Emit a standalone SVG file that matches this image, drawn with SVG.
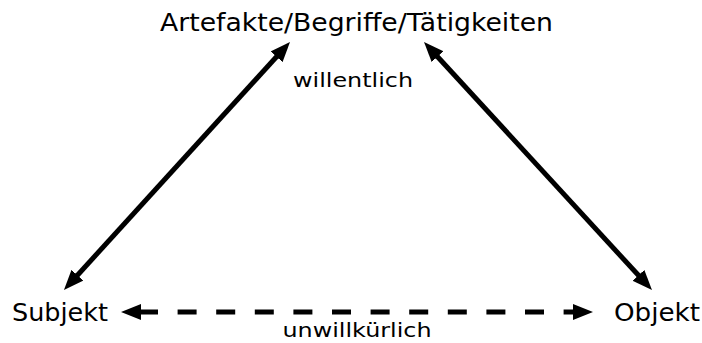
<svg xmlns="http://www.w3.org/2000/svg" width="702" height="343" viewBox="0 0 702 343">
<defs>
<style>
text{font-family:"DejaVu Sans","Liberation Sans",sans-serif;fill:#000}
.n{font-size:24px}
.l{font-size:20px}
.c{stroke:#000;stroke-width:5;fill:none;marker-start:url(#ah);marker-end:url(#ah)}
.d{stroke-dasharray:19 19.6}
</style>
<marker id="ah" markerUnits="userSpaceOnUse" markerWidth="22" markerHeight="18" refX="2" refY="8" orient="auto-start-reverse">
<path d="M0,0 L20,8 L0,16 z" fill="#000"/>
</marker>
</defs>
<rect width="702" height="343" fill="#fff"/>
<g id="connectors">
<line class="c" x1="76.1" y1="276.7" x2="277.9" y2="55.3"/>
<line class="c" x1="436.2" y1="55.2" x2="639.8" y2="276.8"/>
<line class="c d" x1="139" y1="312" x2="575" y2="312"/>
<text class="l" x="353" y="87" text-anchor="middle" textLength="120" lengthAdjust="spacingAndGlyphs">willentlich</text>
<text class="l" x="357" y="337" text-anchor="middle" textLength="149" lengthAdjust="spacingAndGlyphs">unwillkürlich</text>
</g>
<g id="node-artefakte">
<text class="n" x="160" y="31" textLength="393" lengthAdjust="spacingAndGlyphs">Artefakte/Begriffe/Tätigkeiten</text>
</g>
<g id="node-subjekt">
<text class="n" x="12" y="321" textLength="96" lengthAdjust="spacingAndGlyphs">Subjekt</text>
</g>
<g id="node-objekt">
<text class="n" x="614" y="321" textLength="86" lengthAdjust="spacingAndGlyphs">Objekt</text>
</g>
</svg>
